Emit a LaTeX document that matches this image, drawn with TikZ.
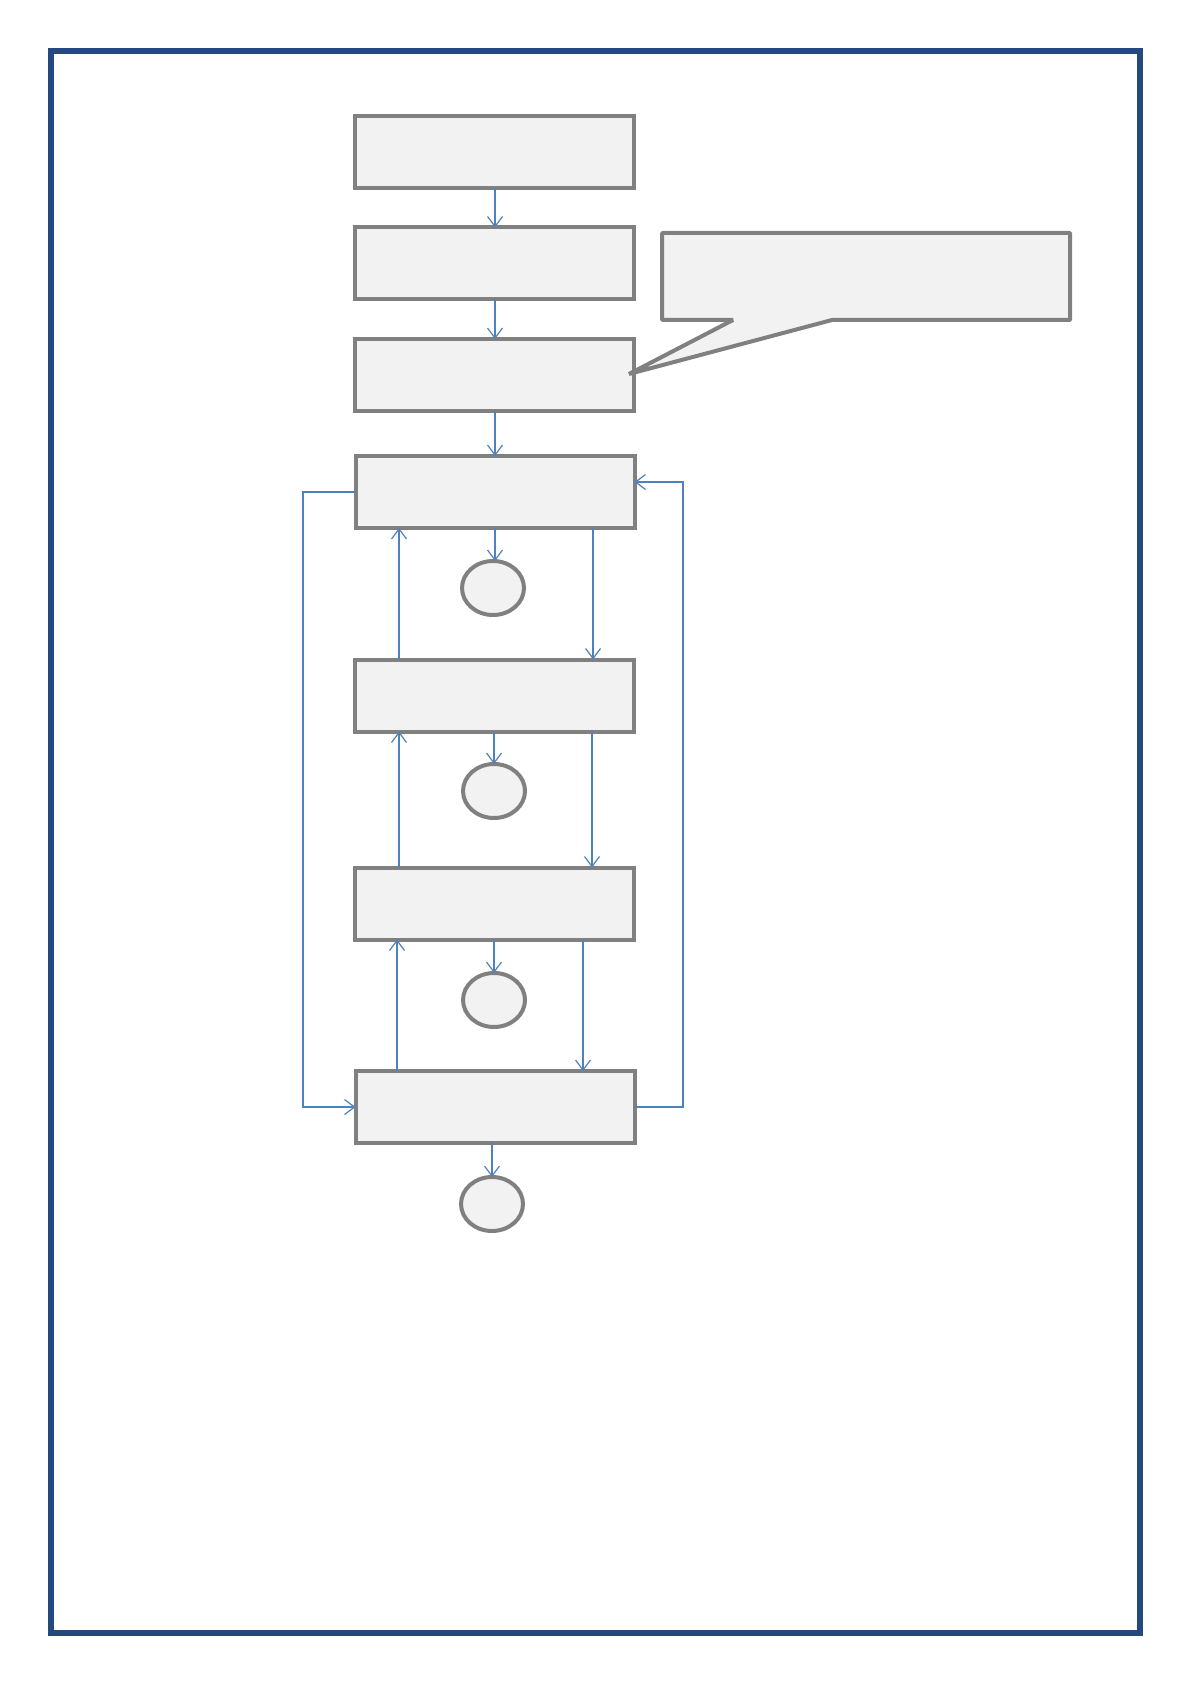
\documentclass[tikz,border=0pt]{standalone}
\usetikzlibrary{arrows.meta,shapes.geometric}
\definecolor{boxgray}{HTML}{808080}
\definecolor{boxfill}{HTML}{F2F2F2}
\definecolor{arrblue}{HTML}{4F81BD}
\definecolor{frameblue}{HTML}{24497E}
\tikzset{
  stepbox/.style={draw=boxgray,fill=boxfill,line width=2pt,rectangle,minimum width=139.5pt,minimum height=36pt,inner sep=0pt,outer sep=0pt},
  endoval/.style={draw=boxgray,fill=boxfill,line width=2pt,ellipse,minimum width=31pt,minimum height=27pt,inner sep=0pt,outer sep=0pt},
  arr/.style={draw=arrblue,line width=0.6pt,-{Straight Barb[length=5pt,width=7.5pt,line width=0.6pt]}},
  lin/.style={draw=arrblue,line width=0.6pt}
}
\begin{document}
\begin{tikzpicture}[x=0.5pt,y=-0.5pt]
\useasboundingbox (0,0) rectangle (1191,1684);
\draw[frameblue,line width=3pt] (51,51) rectangle (1140,1633);
% boxes
\node[stepbox] (b1) at (494.5,152.5) {};
\node[stepbox] (b2) at (494.5,263.5) {};
\node[stepbox] (b3) at (494.5,375) {};
\node[stepbox] (b4) at (495,492) {};
\node[stepbox] (b5) at (494.5,695.5) {};
\node[stepbox] (b6) at (494.5,903.5) {};
\node[stepbox] (b7) at (495,1107) {};
% ovals
\node[endoval] (c1) at (493,588) {};
\node[endoval] (c2) at (494,791) {};
\node[endoval] (c3) at (494,1000) {};
\node[endoval] (c4) at (492,1204) {};
% callout
\draw[draw=boxgray,fill=boxfill,line width=2pt,line join=bevel]
  (662,233) -- (1070,233) -- (1070,320) -- (832,320) -- (629,374) -- (733,320) -- (662,320) -- cycle;
% main chain
\draw[arr] (b1.south -| 495,0) -- (b2.north -| 495,0);
\draw[arr] (b2.south -| 495,0) -- (b3.north -| 495,0);
\draw[arr] (b3.south -| 495,0) -- (b4.north -| 495,0);
% to ovals
\draw[arr] (b4.south -| 495,0) -- (c1.north -| 495,0);
\draw[arr] (b5.south -| 494,0) -- (c2.north -| 494,0);
\draw[arr] (b6.south -| 494,0) -- (c3.north -| 494,0);
\draw[arr] (b7.south -| 492,0) -- (c4.north -| 492,0);
% down arrows
\draw[arr] (b4.south -| 593,0) -- (b5.north -| 593,0);
\draw[arr] (b5.south -| 592,0) -- (b6.north -| 592,0);
\draw[arr] (b6.south -| 583,0) -- (b7.north -| 583,0);
% up arrows
\draw[arr] (b5.north -| 399,0) -- (b4.south -| 399,0);
\draw[arr] (b6.north -| 399,0) -- (b5.south -| 399,0);
\draw[arr] (b7.north -| 397,0) -- (b6.south -| 397,0);
% left loop
\draw[arr] (b4.west) -- (303,492) -- (303,1107) -- (b7.west);
% right loop
\draw[arr] (b7.east) -- (683,1107) -- (683,482) -- (b4.east |- 0,482);
\end{tikzpicture}
\end{document}
